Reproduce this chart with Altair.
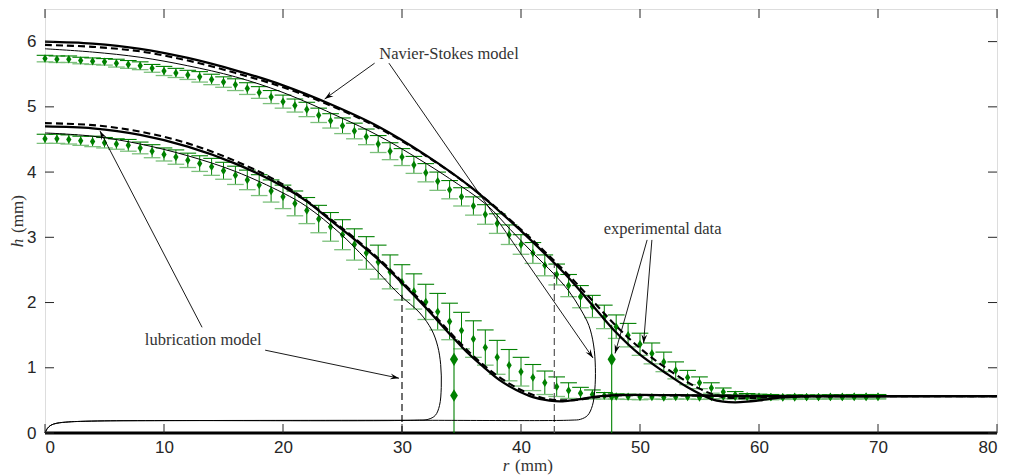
import math
import altair as alt
import pandas as pd

# ---------------- plot geometry ----------------
W, H = 952, 424
XDOM = [0, 80]
YDOM = [0, 6.5]
SX, SY = W / (XDOM[1] - XDOM[0]), H / (YDOM[1] - YDOM[0])

# ---------------- experimental data (r = 0..70 mm, 1 mm step) ----------------
r_exp = list(range(0, 71))

h_exp_upper = [
    5.74, 5.73, 5.73, 5.71, 5.70, 5.69, 5.67, 5.65, 5.63, 5.59,
    5.55, 5.52, 5.49, 5.46, 5.42, 5.38, 5.34, 5.28, 5.22, 5.15,
    5.08, 5.02, 4.96, 4.87, 4.785, 4.71, 4.63, 4.54, 4.43, 4.32,
    4.23, 4.11, 3.99, 3.86, 3.73, 3.62, 3.48, 3.35, 3.21, 3.04,
    2.89, 2.76, 2.57, 2.43, 2.26, 2.09, 1.94, 1.78, 1.63, 1.50,
    1.36, 1.22, 1.09, 0.96, 0.85, 0.77, 0.69, 0.63, 0.585, 0.565,
    0.555, 0.55, 0.545, 0.545, 0.55, 0.55, 0.555, 0.555, 0.56, 0.56,
    0.56,
]
err_upper = [
    0.05, 0.05, 0.05, 0.05, 0.05, 0.05, 0.06, 0.06, 0.06, 0.06,
    0.07, 0.07, 0.07, 0.08, 0.08, 0.08, 0.09, 0.09, 0.09, 0.10,
    0.10, 0.10, 0.11, 0.11, 0.11, 0.12, 0.12, 0.12, 0.13, 0.13,
    0.13, 0.13, 0.14, 0.14, 0.14, 0.14, 0.14, 0.15, 0.15, 0.15,
    0.15, 0.16, 0.16, 0.16, 0.17, 0.17, 0.17, 0.18, 0.18, 0.18,
    0.17, 0.16, 0.15, 0.13, 0.11, 0.09, 0.08, 0.06, 0.05, 0.04,
    0.04, 0.04, 0.03, 0.03, 0.03, 0.03, 0.03, 0.03, 0.03, 0.03,
    0.03,
]
h_exp_lower = [
    4.51, 4.51, 4.50, 4.48, 4.47, 4.45, 4.43, 4.41, 4.37, 4.32,
    4.27, 4.23, 4.18, 4.13, 4.08, 4.02, 3.95, 3.88, 3.80, 3.71,
    3.62, 3.52, 3.41, 3.28, 3.16, 3.04, 2.89, 2.76, 2.62, 2.47,
    2.31, 2.17, 2.01, 1.86, 1.71, 1.57, 1.44, 1.31, 1.16, 1.04,
    0.94, 0.85, 0.77, 0.71, 0.65, 0.61, 0.59, 0.57, 0.56, 0.555,
    0.55, 0.55, 0.545, 0.55, 0.55, 0.545, 0.55, 0.555, 0.55, 0.55,
    0.545, 0.55, 0.55, 0.555, 0.55, 0.55, 0.55, 0.55, 0.55, 0.55,
    0.55,
]
err_lower = [
    0.07, 0.07, 0.07, 0.07, 0.08, 0.08, 0.08, 0.09, 0.09, 0.10,
    0.10, 0.11, 0.11, 0.12, 0.13, 0.13, 0.14, 0.15, 0.16, 0.17,
    0.18, 0.19, 0.20, 0.21, 0.22, 0.23, 0.24, 0.25, 0.26, 0.26,
    0.27, 0.27, 0.27, 0.28, 0.28, 0.28, 0.28, 0.27, 0.26, 0.24,
    0.22, 0.20, 0.18, 0.15, 0.12, 0.09, 0.07, 0.05, 0.04, 0.04,
    0.04, 0.03, 0.03, 0.03, 0.03, 0.03, 0.03, 0.03, 0.03, 0.03,
    0.03, 0.03, 0.03, 0.03, 0.03, 0.03, 0.03, 0.03, 0.03, 0.03,
    0.03,
]

# contact-line measurements (vertical bars with large markers)
cl_r = [34.37, 47.62]
cl_top = [1.48, 1.66]
cl_pts_r = [34.37, 34.37, 47.62, 47.62]
cl_pts_h = [1.13, 0.575, 1.13, 0.565]
cl_pts_size = [175, 155, 175, 100]

# ---------------- model curves ----------------
ns_upper_r = [0, 4, 8, 12, 16, 20, 24, 28, 32, 36, 40, 42, 44, 46, 48, 50, 52,
              54, 56, 57, 58, 59, 60, 62, 65, 70, 80]
ns_upper_h = [6.00, 5.97, 5.89, 5.75, 5.56, 5.33, 5.04, 4.70, 4.26, 3.74, 3.10,
              2.75, 2.38, 1.96, 1.54, 1.20, 0.94, 0.70, 0.52, 0.48, 0.47, 0.48,
              0.50, 0.545, 0.565, 0.565, 0.565]

ns_lower_r = [0, 4, 8, 12, 16, 20, 22, 24, 26, 28, 30, 32, 34, 35.4, 36.8, 38.2,
              39.6, 41, 42.4, 43.5, 45, 46.5, 48, 50, 55, 60, 80]
ns_lower_h = [4.70, 4.67, 4.57, 4.39, 4.13, 3.78, 3.55, 3.26, 2.97, 2.66, 2.30,
              1.92, 1.52, 1.25, 1.02, 0.81, 0.66, 0.55, 0.495, 0.485, 0.52,
              0.56, 0.58, 0.585, 0.575, 0.565, 0.565]

dash_upper_r = [0, 4, 8, 12, 16, 20, 24, 28, 32, 36, 40, 42, 44, 46, 48, 50, 52,
                54, 55, 56, 57, 58, 60, 62, 65, 80]
dash_upper_h = [5.95, 5.92, 5.85, 5.71, 5.52, 5.30, 5.02, 4.68, 4.25, 3.74, 3.12,
                2.78, 2.42, 2.03, 1.64, 1.30, 1.02, 0.78, 0.68, 0.60, 0.55,
                0.535, 0.54, 0.555, 0.565, 0.565]

dash_lower_r = [0, 4, 8, 12, 16, 20, 24, 28, 30, 32, 34, 36, 38, 40, 42, 44, 46,
                48, 50, 60, 80]
dash_lower_h = [4.75, 4.72, 4.62, 4.44, 4.17, 3.81, 3.28, 2.68, 2.32, 1.95, 1.55,
                1.18, 0.88, 0.66, 0.53, 0.50, 0.54, 0.575, 0.58, 0.565, 0.565]

# overhanging profiles with precursor film (traced in path order)
thin_upper_r = [0, 4, 8, 12, 16, 20, 24.8, 28, 31.5, 34, 37.1, 39.1, 41, 42.7, 44,
                45, 45.7, 46.1, 46.25, 46.2, 46.0, 45.6, 45.0, 44.2, 30, 10, 5, 3,
                2, 1, 0.5, 0.2, 0]
thin_upper_h = [5.89, 5.84, 5.76, 5.63, 5.46, 5.22, 4.84, 4.56, 4.19, 3.90, 3.50,
                3.12, 2.76, 2.45, 2.18, 1.90, 1.65, 1.35, 1.0, 0.66, 0.42, 0.27,
                0.21, 0.197, 0.195, 0.19, 0.186, 0.178, 0.17, 0.15, 0.12, 0.07, 0]

thin_lower_r = [0, 4, 8, 12, 16, 20, 22, 24.8, 27, 29.8, 31.5, 32.5, 33.0, 33.25,
                33.3, 33.15, 32.8, 32.2, 31.3, 10, 5, 3, 2, 1, 0.5, 0.2, 0]
thin_lower_h = [4.60, 4.55, 4.43, 4.25, 4.01, 3.68, 3.47, 3.06, 2.66, 2.12, 1.84,
                1.58, 1.33, 1.05, 0.70, 0.42, 0.27, 0.21, 0.197, 0.19, 0.186,
                0.178, 0.17, 0.15, 0.12, 0.07, 0]

# vertical guide lines
guide_r = [30, 42.8]
guide_top = [2.12, 2.6]
guide_color = ["#111111", "#555555"]

# annotations: label text and arrows (start r, start h, tip r, tip h)
labels = ["Navier-Stokes model", "lubrication model", "experimental data"]
label_r = [33.95, 13.3, 51.9]
label_h = [5.81, 1.42, 3.12]
arrows = [
    (27.7, 5.67, 23.5, 5.12),
    (28.9, 5.67, 46.05, 1.15),
    (13.2, 1.62, 4.62, 4.63),
    (18.5, 1.27, 29.75, 0.84),
    (50.6, 2.96, 47.9, 1.22),
    (51.0, 2.96, 50.3, 1.375),
]

x_ticks = [0, 10, 20, 30, 40, 50, 60, 70, 80]
y_ticks = [0, 1, 2, 3, 4, 5, 6]

# ---------------- tables ----------------
def exp_table(h, e):
    return pd.DataFrame({
        "r": r_exp, "h": h,
        "lo": [a - b for a, b in zip(h, e)],
        "hi": [a + b for a, b in zip(h, e)],
        "cl": [r - 0.7 for r in r_exp],
        "cr": [r + 0.7 for r in r_exp],
    })

exp_df = pd.concat([exp_table(h_exp_upper, err_upper),
                    exp_table(h_exp_lower, err_lower)], ignore_index=True)

def curve_table(rs, hs, name):
    return pd.DataFrame({"r": rs, "h": hs, "curve": name, "i": range(len(rs))})

thick_df = pd.concat([curve_table(ns_upper_r, ns_upper_h, "u"),
                      curve_table(ns_lower_r, ns_lower_h, "l")], ignore_index=True)
dash_df = pd.concat([curve_table(dash_upper_r, dash_upper_h, "u"),
                     curve_table(dash_lower_r, dash_lower_h, "l")], ignore_index=True)
thin_df = pd.concat([curve_table(thin_upper_r, thin_upper_h, "u"),
                     curve_table(thin_lower_r, thin_lower_h, "l")], ignore_index=True)

arrow_df = pd.DataFrame(arrows, columns=["r0", "h0", "r1", "h1"])
arrow_df["angle"] = [
    math.degrees(math.atan2((r1 - r0) * SX, (h1 - h0) * SY)) % 360
    for r0, h0, r1, h1 in arrows
]

# ---------------- encodings ----------------
XS = alt.Scale(domain=XDOM, nice=False, zero=False)
YS = alt.Scale(domain=YDOM, nice=False, zero=False)
X_AX = alt.Axis(values=x_ticks, format="d", ticks=False, domain=False, grid=False,
                labelFont="Liberation Sans", labelFontSize=17, labelColor="#262626",
                labelPadding=6, title=None)
Y_AX = alt.Axis(values=y_ticks, format="d", ticks=False, domain=False, grid=False,
                labelFont="Liberation Sans", labelFontSize=17, labelColor="#262626",
                labelPadding=9, title=None)


def X(f):
    return alt.X(f, type="quantitative", scale=XS, axis=X_AX)


def Y(f):
    return alt.Y(f, type="quantitative", scale=YS, axis=Y_AX)


GREEN = "#008000"
LIGHT = "#7cc07c"
DIAMOND = "M0,-1L0.62,0L0,1L-0.62,0Z"
HEAD = "M0,0L0.55,1.7L0,1.1L-0.55,1.7Z"
SMOOTH = "catmull-rom"

layers = []

# substrate
layers.append(
    alt.Chart(pd.DataFrame({"r": [0, 80], "h": [0, 0]}))
    .mark_line(color="black", strokeWidth=3.2, clip=False)
    .encode(x=X("r"), y=Y("h"))
)

# error bars
layers.append(alt.Chart(exp_df).mark_rule(color=GREEN, strokeWidth=1)
              .encode(x=X("r"), y=Y("lo"), y2="hi"))
layers.append(alt.Chart(exp_df).mark_rule(color=LIGHT, strokeWidth=1.3)
              .encode(x=X("cl"), x2="cr", y=Y("lo")))
layers.append(alt.Chart(exp_df).mark_rule(color=GREEN, strokeWidth=1.1)
              .encode(x=X("cl"), x2="cr", y=Y("hi")))

# contact-line bars
cl_df = pd.DataFrame({"r": cl_r, "lo": [0, 0], "hi": cl_top})
layers.append(alt.Chart(cl_df).mark_rule(color=GREEN, strokeWidth=1.1)
              .encode(x=X("r"), y=Y("lo"), y2="hi"))

# markers
layers.append(alt.Chart(exp_df).mark_point(shape=DIAMOND, filled=True, color=GREEN,
                                           opacity=1, size=72)
              .encode(x=X("r"), y=Y("h")))
clp_df = pd.DataFrame({"r": cl_pts_r, "h": cl_pts_h, "s": cl_pts_size})
layers.append(alt.Chart(clp_df).mark_point(shape=DIAMOND, filled=True, color=GREEN,
                                           opacity=1)
              .encode(x=X("r"), y=Y("h"), size=alt.Size("s:Q", scale=None)))

# vertical dashed guides
guide_df = pd.DataFrame({"r": guide_r, "lo": [0, 0], "hi": guide_top, "c": guide_color})
layers.append(alt.Chart(guide_df).mark_rule(strokeWidth=1.2, strokeDash=[7, 4])
              .encode(x=X("r"), y=Y("lo"), y2="hi", color=alt.Color("c:N", scale=None)))

# model curves
layers.append(alt.Chart(thin_df).mark_line(color="black", strokeWidth=1,
                                           interpolate=SMOOTH)
              .encode(x=X("r"), y=Y("h"), detail="curve:N", order="i:Q"))
layers.append(alt.Chart(dash_df).mark_line(color="black", strokeWidth=2.1,
                                           strokeDash=[7, 4], interpolate=SMOOTH)
              .encode(x=X("r"), y=Y("h"), detail="curve:N", order="i:Q"))
layers.append(alt.Chart(thick_df).mark_line(color="black", strokeWidth=2.3,
                                            interpolate=SMOOTH)
              .encode(x=X("r"), y=Y("h"), detail="curve:N", order="i:Q"))

# annotations
layers.append(alt.Chart(arrow_df).mark_rule(color="black", strokeWidth=0.9)
              .encode(x=X("r0"), y=Y("h0"), x2="r1", y2="h1"))
layers.append(alt.Chart(arrow_df).mark_point(shape=HEAD, filled=True, color="black",
                                             opacity=1, size=110)
              .encode(x=X("r1"), y=Y("h1"), angle=alt.Angle("angle:Q", scale=None)))
label_df = pd.DataFrame({"t": labels, "r": label_r, "h": label_h})
layers.append(alt.Chart(label_df).mark_text(font="Liberation Serif", fontSize=16.5,
                                            color="#333333", align="center",
                                            baseline="middle")
              .encode(x=X("r"), y=Y("h"), text="t:N"))

# inward ticks on all four sides
xt_df = pd.DataFrame({"r": x_ticks})
yt_df = pd.DataFrame({"h": y_ticks})
TICK = dict(color="#262626", strokeWidth=1)
layers.append(alt.Chart(xt_df).mark_rule(**TICK)
              .encode(x=X("r"), y=alt.value(H), y2=alt.value(H - 9)))
layers.append(alt.Chart(xt_df).mark_rule(**TICK)
              .encode(x=X("r"), y=alt.value(0), y2=alt.value(9)))
layers.append(alt.Chart(yt_df).mark_rule(**TICK)
              .encode(y=Y("h"), x=alt.value(0), x2=alt.value(9)))
layers.append(alt.Chart(yt_df).mark_rule(**TICK)
              .encode(y=Y("h"), x=alt.value(W), x2=alt.value(W - 9)))

# axis titles (italic symbol + units)
def title_part(txt, x, y, italic, angle=0):
    kw = dict(font="Liberation Serif", fontSize=17, color="#333333",
              align="center", baseline="middle")
    if italic:
        kw["fontStyle"] = "italic"
    if angle:
        kw["angle"] = angle
    return (alt.Chart(pd.DataFrame({"t": [txt]})).mark_text(**kw)
            .encode(text="t:N", x=alt.value(x), y=alt.value(y)))

layers.append(title_part("r", 461, 457, True))
layers.append(title_part("(mm)", 489, 457, False))
layers.append(title_part("h", -27, 234, True, 270))
layers.append(title_part("(mm)", -27, 205, False, 270))

chart = (
    alt.layer(*layers)
    .properties(width=W, height=H,
                autosize=alt.AutoSizeParams(type="none"),
                padding={"left": 45, "top": 9, "right": 19, "bottom": 43})
    .configure_view(stroke="#262626", strokeWidth=1)
    .configure(background="white")
)

chart.save("out.html", embed_options={"renderer": "svg", "actions": False})
